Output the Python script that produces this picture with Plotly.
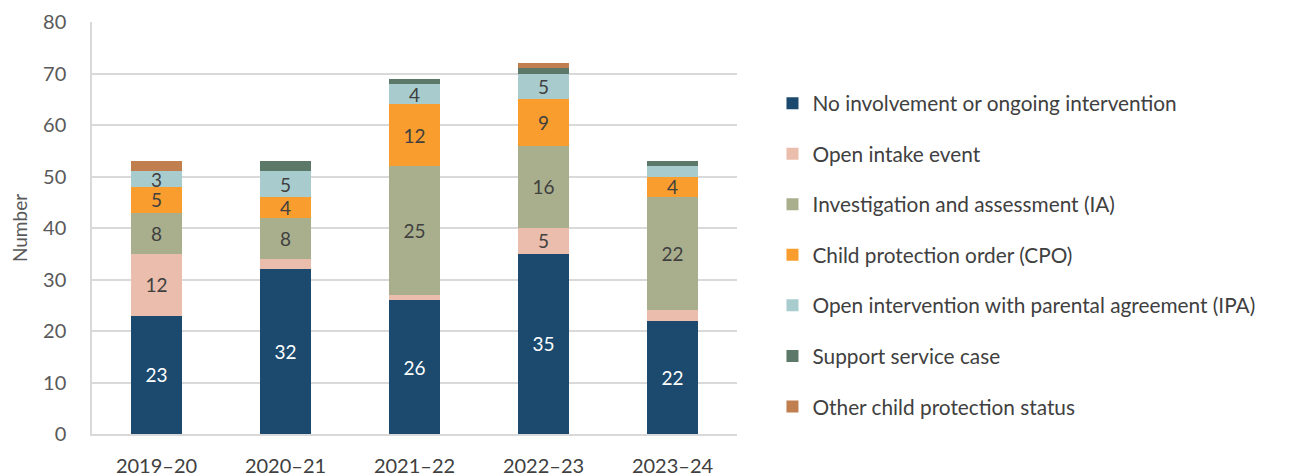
import plotly.graph_objects as go

years = ["2019–20", "2020–21", "2021–22", "2022–23", "2023–24"]
series_names = [
    "No involvement or ongoing intervention",
    "Open intake event",
    "Investigation and assessment (IA)",
    "Child protection order (CPO)",
    "Open intervention with parental agreement (IPA)",
    "Support service case",
    "Other child protection status",
]
no_involvement = [23, 32, 26, 35, 22]
open_intake = [12, 2, 1, 5, 2]
investigation = [8, 8, 25, 16, 22]
cpo = [5, 4, 12, 9, 4]
ipa = [3, 5, 4, 5, 2]
support = [0, 2, 1, 1, 1]
other = [2, 0, 0, 1, 0]
series_values = [no_involvement, open_intake, investigation, cpo, ipa, support, other]

colors = ["#1B4A6E", "#EABDAD", "#A9AF8D", "#F99D2E", "#A8CCCD", "#5C7868", "#C17F50"]
text_colors = ["white", "#404040", "#404040", "#404040", "#404040", "#404040", "#404040"]

FONT = "Lato"

fig = go.Figure()
for i, (name, vals) in enumerate(zip(series_names, series_values)):
    labels = [str(v) if v >= 3 else "" for v in vals]
    fig.add_trace(go.Bar(
        name=name, x=years, y=vals,
        marker=dict(color=colors[i], line=dict(width=0)),
        text=labels, textposition="inside", insidetextanchor="middle",
        textangle=0, constraintext="none",
        textfont=dict(color=text_colors[i], size=19, family=FONT),
        legendgroup=f"g{i}", width=0.4,
        hoverinfo="x+y+name",
    ))

fig.update_layout(
    barmode="stack",
    width=1295, height=468,
    margin=dict(l=84, r=566, t=14, b=42),
    paper_bgcolor="white", plot_bgcolor="white",
    font=dict(family=FONT, size=20, color="#595959"),
    legend=dict(
        x=1.055, y=0.434, xanchor="left", yanchor="middle",
        traceorder="grouped", tracegroupgap=20.5,
        font=dict(size=20.8, color="#404040", family=FONT),
        itemsizing="constant",
    ),
    xaxis=dict(
        showline=True, linecolor="#D9D9D9", linewidth=1.5,
        tickfont=dict(size=20, color="#404040"), ticks="",
        ticklabelstandoff=13, automargin=False,
    ),
    yaxis=dict(
        range=[0, 80], dtick=10, showgrid=True, gridcolor="#D9D9D9", gridwidth=1.5,
        showline=True, linecolor="#D9D9D9", linewidth=1.5,
        tickfont=dict(size=20, color="#595959"), ticks="", ticklabelstandoff=20,
        title=dict(text="Number", font=dict(size=19, color="#595959"), standoff=18),
        zeroline=False, automargin=False,
    ),
)

fig.write_html("out.html")
